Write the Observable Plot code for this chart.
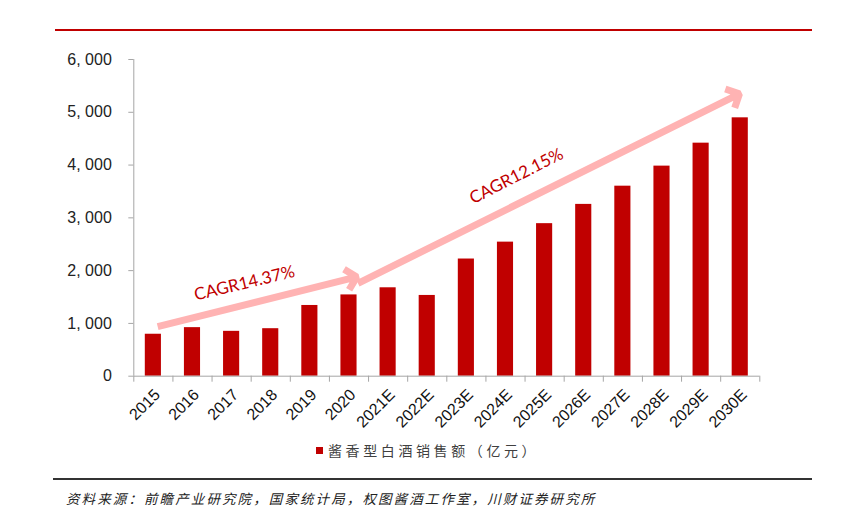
<!DOCTYPE html>
<html>
<head>
<meta charset="utf-8">
<script src="https://cdn.jsdelivr.net/npm/d3@7"></script>
<script src="https://cdn.jsdelivr.net/npm/@observablehq/plot@0.6"></script>
<style>
  html, body { margin: 0; padding: 0; background: #fff; }
  #wrap { position: relative; width: 859px; height: 522px; overflow: hidden; background: #fff; }
  #chart { position: absolute; left: 0; top: 0; }
  .topline { position: absolute; left: 55px; top: 29px; width: 757px; height: 2px; background: #C00000; z-index: 2; }
  .legend { position: absolute; left: 316px; top: 440px; height: 20px; display: flex; align-items: center;
            font-family: "Noto Sans CJK SC", sans-serif; font-size: 14px; letter-spacing: 3.6px; color: #404040; }
  .legend .sw { width: 7px; height: 7px; background: #C00000; margin-right: 5px; }
  .footline { position: absolute; left: 53px; top: 478px; width: 759px; height: 2px; background: #333; }
  .source { position: absolute; left: 66px; top: 488px; font-family: "Noto Sans CJK SC", sans-serif;
            font-style: italic; font-size: 13.5px; letter-spacing: 2.1px; color: #222; }
</style>
</head>
<body>
<div id="wrap">
  <div id="chart"></div>
  <div class="topline"></div>
  <div class="legend"><div class="sw"></div><span id="legendText"></span></div>
  <div class="footline"></div>
  <div class="source" id="sourceText"></div>
</div>
<script>
// ---- data ----
const categories = ["2015","2016","2017","2018","2019","2020","2021E","2022E","2023E","2024E","2025E","2026E","2027E","2028E","2029E","2030E"];
const sales = [795, 920, 850, 900, 1340, 1540, 1675, 1530, 2220, 2540, 2890, 3255, 3600, 3980, 4415, 4895];
const yTicks = [0, 1000, 2000, 3000, 4000, 5000, 6000];
const seriesName = "酱香型白酒销售额（亿元）";
const sourceNote = "资料来源：前瞻产业研究院，国家统计局，权图酱酒工作室，川财证券研究所";
// CAGR annotations (positions in category units / value units)
const cagrLabels = ["CAGR14.37%", "CAGR12.15%"];
const cagrLabelPos = [[2.83, 1760], [9.78, 3790]];
const cagrAngles = [-13.5, -27];
const arrowStarts = [[0.61, 940], [5.73, 1760]];
const arrowEnds = [[5.70, 1880], [15.48, 5350]];

const table = categories.map((c, i) => ({i, category: c, value: sales[i]}));
const arrows = arrowStarts.map((s, k) => ({x1: s[0], y1: s[1], x2: arrowEnds[k][0], y2: arrowEnds[k][1]}));
const labels = cagrLabels.map((t, k) => ({text: t, x: cagrLabelPos[k][0], y: cagrLabelPos[k][1], angle: cagrAngles[k]}));

document.getElementById("legendText").textContent = seriesName;
document.getElementById("sourceText").textContent = sourceNote;

const fmt = d => d3.format(",")(d).replace(",", ", ");

const chart = Plot.plot({
  width: 859,
  height: 440,
  marginLeft: 133.3,
  marginRight: 99.7,
  marginTop: 59,
  marginBottom: 64.3,
  style: {fontFamily: "'Liberation Sans', Arial, sans-serif", color: "#222", background: "transparent"},
  x: {domain: [0, categories.length], axis: null},
  y: {domain: [0, 6000], axis: null},
  marks: [
    Plot.rectY(table, {x1: d => d.i, x2: d => d.i + 1, y: "value", fill: "#C00000", insetLeft: 11.5, insetRight: 11.5}),
    Plot.ruleX([0], {stroke: "#A6A6A6", strokeWidth: 1}),
    Plot.ruleY([0], {stroke: "#A6A6A6", strokeWidth: 1}),
    Plot.axisY({ticks: yTicks, tickFormat: fmt, tickSize: 5, tickPadding: 17, stroke: "#A6A6A6", fontSize: 16, fill: "#222", label: null}),
    Plot.axisX({ticks: d3.range(categories.length + 1), tickFormat: () => "", tickSize: 6, stroke: "#A6A6A6", label: null}),
    Plot.axisX({ticks: categories.map((c, i) => i + 0.5), tickFormat: v => categories[Math.floor(v)], tickSize: 0, tickPadding: 13, tickRotate: -45, fontSize: 16, fill: "#111", label: null, dx: 4, dy: 3}),
    Plot.arrow(arrows, {x1: "x1", y1: "y1", x2: "x2", y2: "y2", stroke: "#FFB3B3", strokeWidth: 7, headLength: 3.2, headAngle: 90, strokeLinejoin: "miter", strokeLinecap: "butt"}),
    Plot.text(labels, {x: "x", y: "y", text: "text", rotate: "angle", fill: "#C00000", fontSize: 17, fontFamily: "Lato, 'Open Sans', sans-serif"})
  ]
});
document.getElementById("chart").appendChild(chart);
</script>
</body>
</html>
